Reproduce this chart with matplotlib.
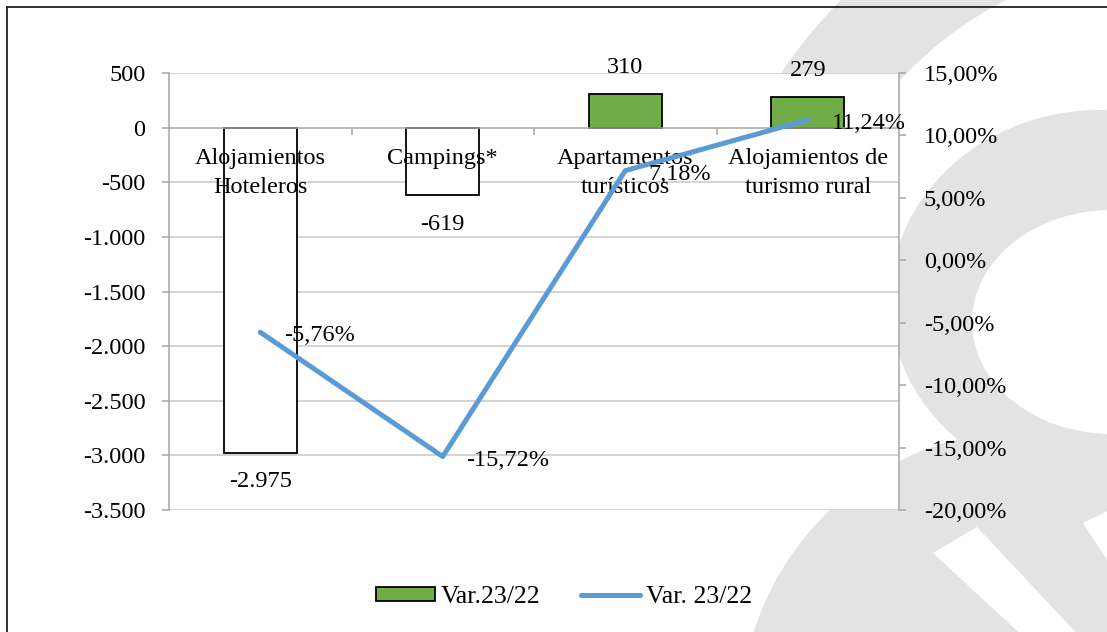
import matplotlib.pyplot as plt
from matplotlib.patches import Wedge, Circle, Ellipse, Polygon, Patch
from matplotlib.lines import Line2D
from matplotlib.ticker import FuncFormatter

plt.rcParams['font.family'] = ['Liberation Serif', 'DejaVu Serif']
plt.rcParams['font.size'] = 17.5

# Data
categories = ['Alojamientos\nHoteleros', 'Campings*', 'Apartamentos\nturísticos',
              'Alojamientos de\nturismo rural']
var_abs = [-2975, -619, 310, 279]          # Var.23/22 (absolute)
var_pct = [-5.76, -15.72, 7.18, 11.24]     # Var. 23/22 (%)
left_ticks = list(range(-3500, 501, 500))
right_ticks = list(range(-20, 16, 5))

green = '#70AD47'
blue = '#5B9BD5'
axis_grey = '#A6A6A6'
grid_grey = '#C8C8C8'
wm_grey = '#E3E3E3'


def thousands(v, pos=None):
    return f'{int(v):,}'.replace(',', '.')


def pct(v, pos=None):
    return f'{v:.2f}%'.replace('.', ',')


fig = plt.figure(figsize=(11.07, 6.32), dpi=100)

# background watermark (pixel coordinates, y down)
bg = fig.add_axes([0, 0, 1, 1], zorder=-1)
bg.set_xlim(0, 1107)
bg.set_ylim(632, 0)
bg.axis('off')
bg.add_patch(Wedge((1180, 340), 480, 180, 290, width=98, color=wm_grey, lw=0))
bg.add_patch(Ellipse((1100, 300), 420, 380, color=wm_grey, lw=0))
bg.add_patch(Ellipse((1112, 322), 280, 224, color='white', lw=0))
bg.add_patch(Circle((1030, 720), 290, color=wm_grey, lw=0))
bg.add_patch(Polygon([(933, 553), (977, 527), (1083, 640), (1027, 640)], color='white', lw=0))
bg.add_patch(Polygon([(1083, 523), (1120, 505), (1120, 580)], color='white', lw=0))
bg.plot([7, 1107], [7, 7], color='#222222', lw=1.3)
bg.plot([7, 7], [7, 632], color='#222222', lw=1.3)

# main chart
ax = fig.add_axes([169 / 1107, 1 - 510 / 632, 730 / 1107, 437 / 632])
x = list(range(len(categories)))
faces = [green if v > 0 else 'white' for v in var_abs]
bars = ax.bar(x, var_abs, width=0.4, color=faces, edgecolor='black', linewidth=1.3, zorder=1)

for t in left_ticks:
    if t != 0:
        ax.axhline(t, color=grid_grey, lw=1.1, zorder=0.5)

ax.set_xlim(-0.5, 3.5)
ax.set_ylim(-3500, 500)
ax.set_yticks(left_ticks)
ax.yaxis.set_major_formatter(FuncFormatter(thousands))
ax.tick_params(axis='y', length=5, width=1.1, color=axis_grey, pad=12)

ax.spines['top'].set_visible(False)
ax.spines['right'].set_visible(False)
ax.spines['left'].set_color(axis_grey)
ax.spines['left'].set_linewidth(1.1)
ax.spines['bottom'].set_position(('data', 0))
ax.spines['bottom'].set_color(axis_grey)
ax.spines['bottom'].set_linewidth(1.1)

ax.set_xticks(x)
ax.set_xticklabels(categories, linespacing=1.45)
ax.tick_params(axis='x', which='major', length=0, pad=15)
ax.set_xticks([0.5, 1.5, 2.5], minor=True)
ax.tick_params(axis='x', which='minor', length=5, width=1.1, color=axis_grey, direction='out')

for xi, v in zip(x, var_abs):
    off = 19 if v > 0 else -21
    ax.annotate(thousands(v), (xi, v), xytext=(0, off), textcoords='offset points',
                ha='center', va='center', zorder=4)

# percentage line on secondary axis
ax2 = ax.twinx()
ax2.plot(x, var_pct, color=blue, lw=3.6, solid_capstyle='round', zorder=2)
ax2.set_ylim(-20, 15)
ax2.set_yticks(right_ticks)
ax2.yaxis.set_major_formatter(FuncFormatter(pct))
ax2.tick_params(axis='y', length=5, width=1.1, color=axis_grey, pad=13)
for s in ['top', 'left', 'bottom']:
    ax2.spines[s].set_visible(False)
ax2.spines['right'].set_color(axis_grey)
ax2.spines['right'].set_linewidth(1.1)

for xi, v in zip(x, var_pct):
    ax2.annotate(pct(v), (xi, v), xytext=(17, -2.5), textcoords='offset points',
                 ha='left', va='center', zorder=4)

# legend
handles = [Patch(facecolor=green, edgecolor='black', linewidth=1.3),
           Line2D([], [], color=blue, lw=3.6, solid_capstyle='round')]
fig.legend(handles, ['Var.23/22', 'Var. 23/22'], loc='center',
           bbox_to_anchor=(564 / 1107, 1 - 597 / 632), ncol=2, frameon=False,
           handlelength=2.3, handleheight=0.5, handletextpad=0.2, columnspacing=1.6,
           prop={'size': 18.5})

fig.savefig('out.png', dpi=100)
